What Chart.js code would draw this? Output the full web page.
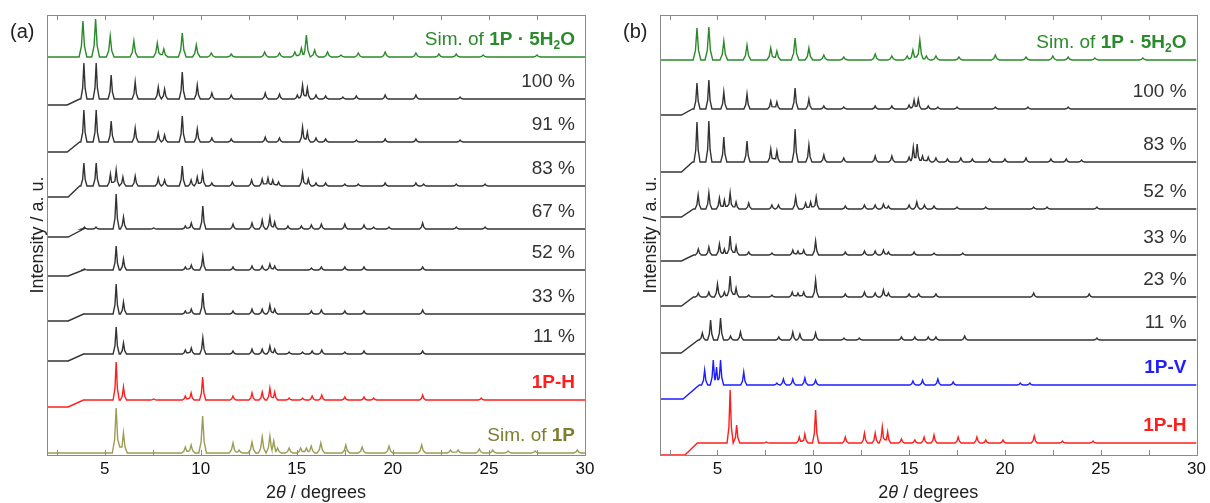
<!DOCTYPE html>
<html>
<head>
<meta charset="utf-8">
<script src="https://cdn.jsdelivr.net/npm/chart.js@4.4.1/dist/chart.umd.min.js"></script>
<style>
  body { margin: 0; background: #fff; }
  .panel { position: absolute; top: 0; width: 605px; height: 503px; }
</style>
</head>
<body>
<div class="panel" style="left:0"><canvas id="chartA" width="605" height="503"></canvas></div>
<div class="panel" style="left:605px"><canvas id="chartB" width="605" height="503"></canvas></div>
<script>
// x axis
const xTicks = [5, 10, 15, 20, 25, 30];
const xMinorTicks = [2.5, 5, 7.5, 10, 12.5, 15, 17.5, 20, 22.5, 25, 27.5];

// ---- panel (a): peaks as [2theta, height] ----
const aSim5H2O = [[3.87,36],[4.53,38],[5.29,21],[6.52,16],[7.74,14],[8.08,8],[9.04,24],[9.77,12],[10.55,4],[11.59,3],[13.33,5],[14.1,4],[14.9,5],[15.24,9],[15.5,22],[15.93,7],[16.6,5],[17.3,2],[18.2,4],[19.6,5],[21.2,4],[22.4,3],[23.3,3],[24.7,2],[27.5,2]];
const a100 = [[3.92,36],[4.56,36],[5.34,24],[6.59,17],[7.79,12],[8.12,10],[9.04,27],[9.82,14],[10.58,6],[11.59,4],[13.36,6],[14.1,5],[15.03,4],[15.3,14],[15.55,11],[16.0,4],[16.5,3],[17.4,2],[18.1,3],[19.6,4],[21.2,4],[23.5,2]];
const a91 = [[3.92,32],[4.56,32],[5.34,21],[6.59,14],[7.79,9],[8.12,7],[9.04,26],[9.82,13],[10.58,4],[11.59,3],[13.36,5],[14.1,4],[15.3,15],[15.55,10],[16.0,4],[16.5,3],[18.1,2],[19.6,3],[21.2,3],[23.5,2]];
const a83 = [[3.92,23],[4.56,23],[5.3,12],[5.6,16],[5.95,9],[6.59,10],[7.79,8],[8.12,6],[9.04,20],[9.5,6],[9.82,9],[10.1,13],[10.58,3],[11.65,4],[12.65,6],[13.2,7],[13.5,8],[13.75,6],[14.05,4],[15.3,13],[15.6,7],[16.0,3],[16.5,3],[17.5,2],[18.2,2],[19.6,3],[21.2,3],[21.6,2],[23.3,2],[24.8,2]];
const a67 = [[3.95,2],[4.55,2],[5.6,35],[5.98,12],[7.55,1],[9.2,3],[9.51,6],[10.11,23],[11.68,5],[12.67,6],[13.2,9],[13.6,12],[13.85,7],[14.54,3],[15.24,3],[15.76,4],[16.28,5],[17.5,5],[18.5,4],[19.0,2],[19.8,2],[21.55,6],[23.3,2],[24.8,2]];
const a52 = [[3.95,1],[5.6,24],[5.98,11],[9.2,3],[9.51,5],[10.11,14],[11.68,3],[12.67,4],[13.2,4],[13.6,6],[13.85,4],[15.76,2],[16.28,3],[17.5,3],[18.5,3],[21.55,3]];
const a33 = [[5.6,30],[5.98,12],[9.2,3],[9.51,5],[10.11,21],[11.68,3],[12.67,5],[13.2,5],[13.6,9],[13.85,5],[15.76,3],[16.28,4],[17.5,3],[18.5,3],[21.55,4]];
const a11 = [[5.6,27],[5.98,11],[9.2,4],[9.51,6],[10.11,16],[11.68,3],[12.67,5],[13.2,5],[13.6,8],[13.85,5],[14.6,2],[15.3,2],[15.8,3],[16.3,4],[17.5,2],[18.5,3],[21.55,3]];
const a1PH = [[5.6,38],[5.98,13],[7.55,1],[9.2,4],[9.5,7],[10.1,23],[11.68,4],[12.67,7],[13.2,8],[13.6,12],[13.85,8],[14.6,2],[15.3,2],[15.8,4],[16.3,5],[17.5,3],[18.5,3],[19.0,2],[21.55,5],[24.6,2]];
const aSim1P = [[5.6,45],[5.98,20],[9.2,6],[9.5,8],[10.1,37],[11.68,10],[12.0,3],[12.67,11],[13.2,16],[13.6,17],[13.8,12],[14.0,5],[14.6,5],[15.2,5],[15.5,5],[15.75,7],[16.25,10],[17.55,8],[18.4,6],[19.8,7],[21.5,8],[23.0,3],[23.4,3],[24.5,4],[25.2,3],[26.0,2],[27.4,2],[29.6,3]];
const aOffsets = [398, 356, 313, 269, 226, 185, 141, 101, 55, 2];
const aDrops = [0, 6, 10, 11, 8, 6, 7, 7, 7, 0];
const aStepFrom = [3.1, 3.05, 3.05, 3.1, 3.1, 3.1, 3.1, 3.1, 3.1, 3.1];
const aStepTo = [3.7, 3.7, 3.7, 3.7, 3.9, 3.9, 3.9, 3.9, 3.9, 3.9];

// ---- panel (b) ----
const bSim5H2O = [[3.93,32],[4.55,33],[5.33,19],[6.54,15],[7.78,12],[8.1,9],[9.05,22],[9.77,12],[10.55,5],[11.59,3],[13.23,6],[14.1,4],[14.9,4],[15.2,10],[15.56,20],[15.9,4],[16.4,4],[17.6,3],[19.5,5],[21.1,3],[22.5,4],[23.3,3],[24.7,2],[27.2,2]];
const b100 = [[3.93,26],[4.55,29],[5.33,17],[6.54,15],[7.78,8],[8.1,7],[9.05,21],[9.77,10],[10.55,3],[11.59,2],[13.23,3],[14.1,3],[15.0,4],[15.26,9],[15.48,10],[16.0,3],[16.5,2],[17.5,2],[19.5,2],[21.2,2],[23.3,2]];
const b83 = [[3.93,40],[4.55,41],[5.33,25],[6.54,21],[7.78,13],[8.1,11],[9.05,33],[9.77,17],[10.55,7],[11.59,4],[13.23,6],[14.1,6],[15.0,5],[15.22,15],[15.42,18],[15.7,6],[16.0,5],[16.4,4],[17.0,3],[17.7,4],[18.3,3],[19.2,3],[20.0,3],[21.1,4],[22.4,3],[23.2,3],[24.0,2]];
const b52 = [[3.99,14],[4.55,16],[5.1,11],[5.36,9],[5.66,16],[5.97,7],[6.63,6],[7.84,4],[8.18,4],[9.08,12],[9.6,6],[9.86,7],[10.15,12],[11.67,3],[12.67,4],[13.23,4],[13.66,5],[13.92,3],[15.0,4],[15.4,7],[15.8,4],[16.3,3],[17.5,2],[19.0,2],[21.5,2],[22.2,2],[24.8,2]];
const b33 = [[4.0,6],[4.55,8],[5.1,11],[5.36,6],[5.66,19],[5.97,9],[6.63,3],[7.84,2],[8.93,5],[9.2,4],[9.5,5],[10.12,14],[11.67,3],[12.67,4],[13.23,4],[13.66,5],[13.92,3],[15.26,3],[16.3,2],[17.8,2]];
const b23 = [[4.0,4],[4.55,5],[5.0,13],[5.36,5],[5.66,21],[5.97,9],[6.63,2],[7.84,2],[8.9,5],[9.2,4],[9.5,5],[10.12,17],[11.67,3],[12.67,5],[13.23,4],[13.66,7],[13.92,4],[15.0,3],[15.5,3],[16.4,3],[21.5,4],[24.4,3]];
const b11 = [[4.21,7],[4.64,20],[5.16,22],[5.68,4],[6.2,8],[8.2,3],[8.93,8],[9.3,6],[10.12,7],[11.6,2],[12.4,2],[14.6,3],[15.3,3],[16.0,3],[16.4,3],[17.9,4],[24.8,2]];
const b1PV = [[4.33,15],[4.78,25],[4.95,18],[5.16,25],[6.37,13],[8.1,2],[8.44,6],[8.93,6],[9.56,7],[10.12,5],[15.2,4],[15.7,5],[16.5,6],[17.3,3],[20.8,2],[21.3,2]];
const b1PH = [[5.66,53],[6.0,18],[7.55,1],[9.27,6],[9.56,9],[10.12,33],[11.67,6],[12.67,10],[13.23,10],[13.6,16],[13.88,11],[14.6,4],[15.3,3],[15.78,6],[16.3,8],[17.56,6],[18.54,6],[19.0,3],[19.9,3],[21.53,7],[23.0,2],[24.6,2]];
const bOffsets = [395, 346, 293, 246, 200, 158, 115, 70, 12];
const bDrops = [0, 6, 10, 8, 6, 9, 13, 14, 12];
const bStepFrom = [3.1, 3.12, 3.12, 3.12, 3.12, 3.12, 3.1, 3.2, 3.3];
const bStepTo = [3.7, 3.7, 3.7, 3.75, 3.75, 3.75, 4.0, 4.05, 3.95];

const FONT = 'Arial, "Liberation Sans", sans-serif';
const GREEN = '#2b8a2b', BLACK = '#333333', RED = '#ff1e1e', BLUE = '#1e1eff', OLIVE = '#9c9c55';

// polyline for one pattern; neighbouring peaks that overlap share a valley point
function tracePoints(peaks, offset, drop, s0, s1, w) {
    const pts = [];
    if (drop > 0) {
        pts.push({ x: 2, y: offset - drop }, { x: s0, y: offset - drop }, { x: s1, y: offset });
    } else {
        pts.push({ x: 2, y: offset });
    }
    const sorted = peaks.slice().sort((a, b) => a[0] - b[0]);
    sorted.forEach(([p, h], i) => {
        const prev = sorted[i - 1], next = sorted[i + 1];
        const overlapPrev = prev && p - prev[0] < 2 * w;
        const overlapNext = next && next[0] - p < 2 * w;
        if (overlapPrev) {
            const vx = (prev[0] + p) / 2;
            pts.push({ x: vx, y: offset + 0.3 * Math.min(h, prev[1]) });
            if (p - w * 0.4 > vx) pts.push({ x: p - w * 0.4, y: offset + h * 0.3 });
        } else {
            pts.push({ x: p - w, y: offset }, { x: p - w * 0.4, y: offset + h * 0.3 });
        }
        pts.push({ x: p, y: offset + h });
        if (overlapNext) {
            if (p + w * 0.4 < (next[0] + p) / 2) pts.push({ x: p + w * 0.4, y: offset + h * 0.3 });
        } else {
            pts.push({ x: p + w * 0.4, y: offset + h * 0.3 }, { x: p + w, y: offset });
        }
    });
    pts.push({ x: 30, y: offset });
    return pts;
}

// labels: list of [text, bold, sub]
const panelA = {
    letter: '(a)', yWidth: 47, padRight: 20,
    series: [aSim5H2O, a100, a91, a83, a67, a52, a33, a11, a1PH, aSim1P],
    offsets: aOffsets, drops: aDrops, stepFrom: aStepFrom, stepTo: aStepTo,
    colors: [GREEN, BLACK, BLACK, BLACK, BLACK, BLACK, BLACK, BLACK, RED, OLIVE],
    sim: [true, false, false, false, false, false, false, false, false, true],
    labels: [
        { color: GREEN, parts: [['Sim. of ', 0], ['1P · 5H', 1], ['2', 1, 1], ['O', 1]] },
        { color: BLACK, parts: [['100 %', 0]] },
        { color: BLACK, parts: [['91 %', 0]] },
        { color: BLACK, parts: [['83 %', 0]] },
        { color: BLACK, parts: [['67 %', 0]] },
        { color: BLACK, parts: [['52 %', 0]] },
        { color: BLACK, parts: [['33 %', 0]] },
        { color: BLACK, parts: [['11 %', 0]] },
        { color: RED, parts: [['1P-H', 1]] },
        { color: '#7e7e30', parts: [['Sim. of ', 0], ['1P', 1]] }
    ]
};
const panelB = {
    letter: '(b)', yWidth: 55, padRight: 12,
    series: [bSim5H2O, b100, b83, b52, b33, b23, b11, b1PV, b1PH],
    offsets: bOffsets, drops: bDrops, stepFrom: bStepFrom, stepTo: bStepTo,
    colors: [GREEN, BLACK, BLACK, BLACK, BLACK, BLACK, BLACK, BLUE, RED],
    sim: [true, false, false, false, false, false, false, false, false],
    labels: [
        { color: GREEN, parts: [['Sim. of ', 0], ['1P · 5H', 1], ['2', 1, 1], ['O', 1]] },
        { color: BLACK, parts: [['100 %', 0]] },
        { color: BLACK, parts: [['83 %', 0]] },
        { color: BLACK, parts: [['52 %', 0]] },
        { color: BLACK, parts: [['33 %', 0]] },
        { color: BLACK, parts: [['23 %', 0]] },
        { color: BLACK, parts: [['11 %', 0]] },
        { color: BLUE, parts: [['1P-V', 1]] },
        { color: RED, parts: [['1P-H', 1]] }
    ]
};

const decorPlugin = {
    id: 'decor',
    afterDraw(chart) {
        const ctx = chart.ctx;
        const area = chart.chartArea;
        const xs = chart.scales.x, ys = chart.scales.y;
        const cfg = chart.options.plugins.decor;
        ctx.save();
        // frame
        ctx.strokeStyle = '#8a8a8a';
        ctx.lineWidth = 1;
        ctx.strokeRect(Math.round(area.left) + 0.5, Math.round(area.top) + 0.5,
                       Math.round(area.right - area.left), Math.round(area.bottom - area.top));
        // inside ticks, top and bottom
        ctx.beginPath();
        xMinorTicks.forEach(v => {
            const px = Math.round(xs.getPixelForValue(v)) + 0.5;
            ctx.moveTo(px, area.bottom); ctx.lineTo(px, area.bottom - 5);
            ctx.moveTo(px, area.top); ctx.lineTo(px, area.top + 5);
        });
        ctx.stroke();
        // trace labels
        const size = 19;
        cfg.labels.forEach((lab, i) => {
            const yc = ys.getPixelForValue(cfg.offsets[i]) - 17;
            let total = 0;
            const widths = lab.parts.map(([t, b, sub]) => {
                ctx.font = (b ? 'bold ' : '') + (sub ? 12 : size) + 'px ' + FONT;
                const w = ctx.measureText(t).width;
                total += w;
                return w;
            });
            let x = area.right - 10 - total;
            ctx.fillStyle = lab.color;
            ctx.textBaseline = 'middle';
            ctx.textAlign = 'left';
            lab.parts.forEach(([t, b, sub], k) => {
                ctx.font = (b ? 'bold ' : '') + (sub ? 12 : size) + 'px ' + FONT;
                ctx.fillText(t, x, sub ? yc + 6 : yc);
                x += widths[k];
            });
        });
        // y title
        ctx.fillStyle = '#222';
        ctx.font = '18px ' + FONT;
        ctx.save();
        ctx.translate(area.left - 9, (area.top + area.bottom) / 2);
        ctx.rotate(-Math.PI / 2);
        ctx.textAlign = 'center';
        ctx.textBaseline = 'middle';
        ctx.fillText('Intensity / a. u.', 0, 0);
        ctx.restore();
        // x title: 2θ / degrees
        const parts = [['2', ''], ['θ', 'italic '], [' / degrees', '']];
        let tw = 0;
        const ws = parts.map(([t, st]) => { ctx.font = st + '18px ' + FONT; const w = ctx.measureText(t).width; tw += w; return w; });
        let tx = (area.left + area.right) / 2 - tw / 2;
        ctx.textAlign = 'left';
        ctx.textBaseline = 'middle';
        parts.forEach(([t, st], k) => { ctx.font = st + '18px ' + FONT; ctx.fillText(t, tx, 493); tx += ws[k]; });
        // panel letter
        ctx.font = '20px ' + FONT;
        ctx.fillText(cfg.letter, area.left - 37, 32);
        ctx.restore();
    }
};

function makeChart(id, panel) {
    const datasets = panel.series.map((peaks, i) => ({
        data: tracePoints(peaks, panel.offsets[i], panel.drops[i], panel.stepFrom[i], panel.stepTo[i], panel.sim[i] ? 0.2 : 0.16),
        borderColor: panel.colors[i],
        borderWidth: 1.4,
        pointRadius: 0,
        tension: 0,
        fill: false
    }));
    return new Chart(document.getElementById(id).getContext('2d'), {
        type: 'line',
        data: { datasets },
        options: {
            responsive: false,
            animation: false,
            parsing: false,
            layout: { padding: { top: 15, right: panel.padRight, left: 0, bottom: 0 } },
            plugins: {
                legend: { display: false },
                tooltip: { enabled: false },
                decor: { labels: panel.labels, offsets: panel.offsets, letter: panel.letter }
            },
            scales: {
                x: {
                    type: 'linear', min: 2, max: 30,
                    afterBuildTicks: s => { s.ticks = xTicks.map(v => ({ value: v })); },
                    afterFit: s => { s.height = 48; },
                    grid: { display: false, drawTicks: false },
                    border: { display: false },
                    ticks: { font: { size: 17, family: FONT }, color: '#111', padding: 4, maxRotation: 0, autoSkip: false }
                },
                y: {
                    min: 0, max: 440,
                    afterFit: s => { s.width = panel.yWidth; },
                    grid: { display: false, drawTicks: false },
                    border: { display: false },
                    ticks: { display: false }
                }
            }
        },
        plugins: [decorPlugin]
    });
}

makeChart('chartA', panelA);
makeChart('chartB', panelB);
</script>
</body>
</html>
